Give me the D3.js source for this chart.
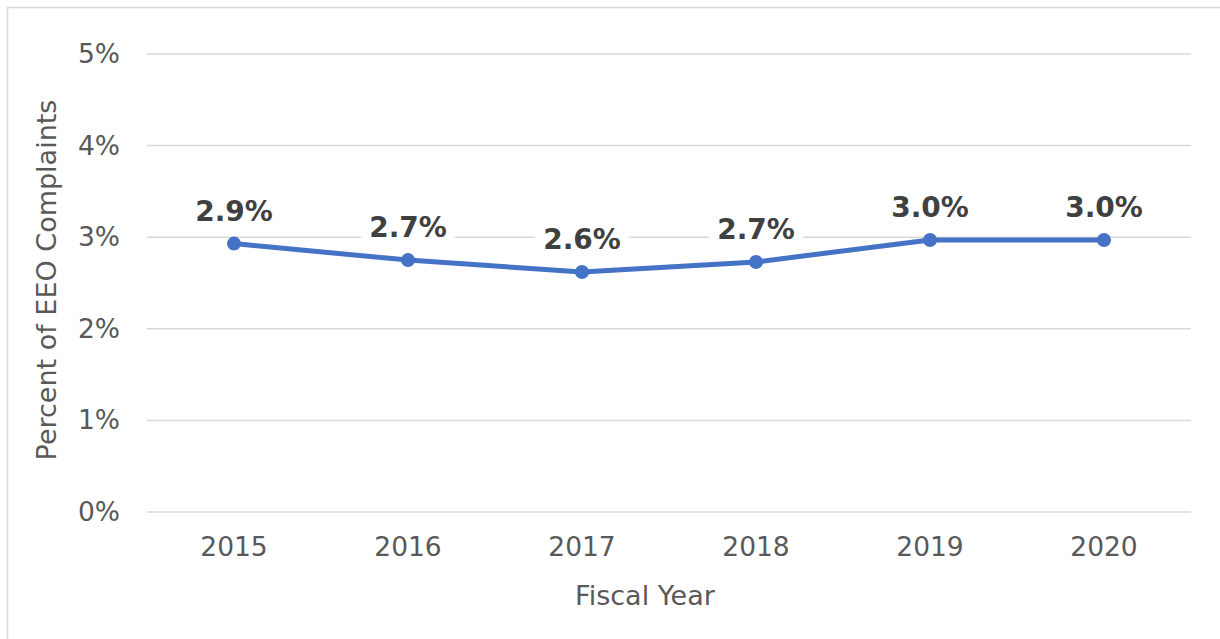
<!DOCTYPE html>
<html><head><meta charset="utf-8">
<script src="https://cdn.jsdelivr.net/npm/d3@7"></script>
<style>
html,body{margin:0;padding:0;background:#fff;}
svg{display:block;font-family:"DejaVu Sans",Verdana,sans-serif;}
</style></head>
<body>
<svg id="chart" width="1220" height="639"></svg>
<script>
const years = ["2015","2016","2017","2018","2019","2020"];
const values = [2.93, 2.75, 2.62, 2.73, 2.97, 2.97];
const labels = ["2.9%","2.7%","2.6%","2.7%","3.0%","3.0%"];
const yTicks = [0,1,2,3,4,5];

const svg = d3.select("#chart");
const W = 1220, H = 639;
const m = {left:147, right:1191, top:54, bottom:512};

// outer border
svg.append("rect").attr("x",7.5).attr("y",7.5).attr("width",W).attr("height",H)
  .attr("fill","none").attr("stroke","#d9d9d9").attr("stroke-width",1.5);

const x = d3.scaleBand().domain(years).range([m.left,m.right]);
const y = d3.scaleLinear().domain([0,5]).range([m.bottom,m.top]);

// gridlines
svg.append("g").selectAll("line").data(yTicks).join("line")
  .attr("x1",m.left).attr("x2",m.right)
  .attr("y1",d=>y(d)).attr("y2",d=>y(d))
  .attr("stroke","#d9d9d9").attr("stroke-width",1.5);

// y axis
const yAxis = d3.axisLeft(y).tickValues(yTicks).tickFormat(d=>d+"%").tickSize(0).tickPadding(27);
const gy = svg.append("g").attr("transform",`translate(${m.left},0)`).call(yAxis);
gy.select(".domain").remove();
gy.selectAll("text").attr("fill","#595959").style("font-size","26.5px").attr("font-family","DejaVu Sans, Verdana, sans-serif");

// x axis
const xAxis = d3.axisBottom(x).tickSize(0).tickPadding(25);
const gx = svg.append("g").attr("transform",`translate(0,${m.bottom})`).call(xAxis);
gx.select(".domain").remove();
gx.selectAll("text").attr("fill","#595959").style("font-size","26.5px").attr("font-family","DejaVu Sans, Verdana, sans-serif");

// axis titles
svg.append("text").attr("x",645).attr("y",605).attr("text-anchor","middle")
  .attr("fill","#595959").style("font-size","27px").text("Fiscal Year");
svg.append("text").attr("transform","translate(56,280) rotate(-90)").attr("text-anchor","middle")
  .attr("fill","#595959").style("font-size","27px").text("Percent of EEO Complaints");

const cx = d => x(d) + x.bandwidth()/2;

// line
const line = d3.line().x((d,i)=>cx(years[i])).y(d=>y(d));
svg.append("path").datum(values).attr("d",line).attr("fill","none")
  .attr("stroke","#4472C4").attr("stroke-width",5).attr("stroke-linejoin","round");

svg.append("g").selectAll("circle").data(values).join("circle")
  .attr("cx",(d,i)=>cx(years[i])).attr("cy",d=>y(d)).attr("r",7).attr("fill","#4472C4");

// data labels with white background
const lg = svg.append("g").selectAll("g").data(values).join("g")
  .attr("transform",(d,i)=>`translate(${cx(years[i])},${y(d)-33})`);
lg.append("rect").attr("x",-47).attr("y",-17).attr("width",94).attr("height",34).attr("fill","#fff");
lg.append("text").attr("text-anchor","middle").attr("dy","0.36em")
  .attr("fill","#404040").style("font-size","28px").style("font-weight","bold")
  .text((d,i)=>labels[i]);
</script>
</body></html>
